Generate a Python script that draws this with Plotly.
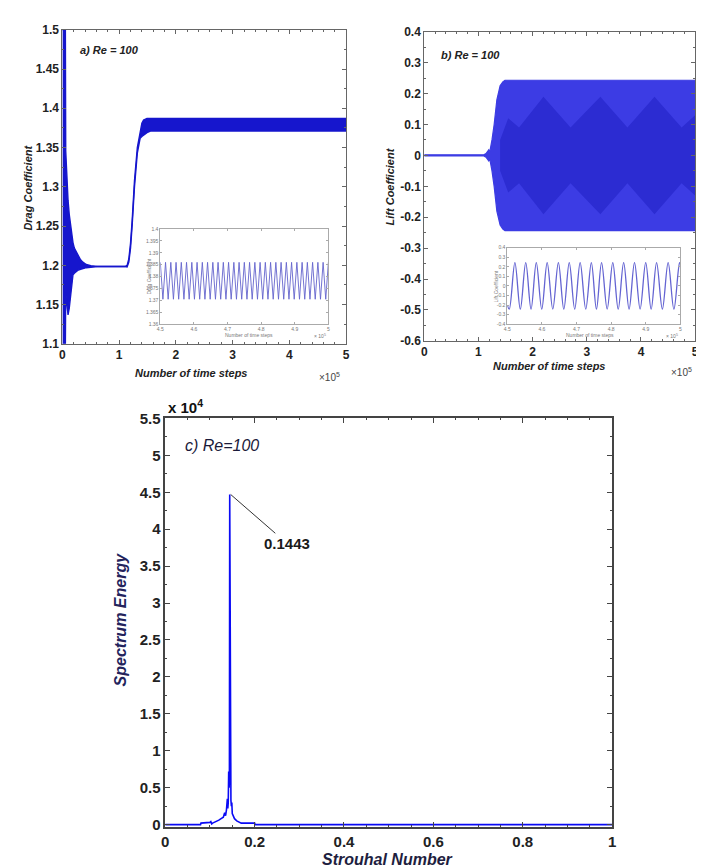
import plotly.graph_objects as go

# ---------------- data ----------------
# a) drag coefficient envelope (time in 1e5 steps)
drag_t = [0, 0.005, 0.045, 0.052, 0.058, 0.08, 0.099, 0.12, 0.145, 0.165, 0.186, 0.21, 0.244, 0.28, 0.32, 0.36, 0.42, 0.5, 0.62, 1.10, 1.14, 1.17, 1.20, 1.23, 1.27, 1.32, 1.37, 1.40, 1.43, 1.49, 1.55, 1.65, 5.0]
drag_upper = [1.5, 1.5, 1.5, 1.5, 1.346, 1.30, 1.283, 1.265, 1.25, 1.235, 1.229, 1.222, 1.217, 1.212, 1.207, 1.204, 1.201, 1.1995, 1.1985, 1.1985, 1.200, 1.208, 1.228, 1.258, 1.308, 1.350, 1.373, 1.381, 1.385, 1.387, 1.387, 1.387, 1.387]
drag_lower = [1.1, 1.1, 1.1, 1.1, 1.165, 1.15, 1.137, 1.145, 1.16, 1.178, 1.188, 1.190, 1.192, 1.194, 1.195, 1.196, 1.197, 1.1975, 1.1985, 1.1985, 1.198, 1.204, 1.222, 1.252, 1.300, 1.343, 1.362, 1.364, 1.366, 1.369, 1.371, 1.371, 1.371]

# b) lift coefficient envelope
lift_t = [0, 1.10, 1.14, 1.17, 1.19, 1.21, 1.22, 1.25, 1.29, 1.34, 1.40, 1.45, 1.49, 1.55, 5.0]
lift_upper = [0.002, 0.002, 0.006, 0.014, 0.018, 0.012, 0.02, 0.05, 0.10, 0.18, 0.225, 0.238, 0.243, 0.243, 0.243]
lift_lower = [-0.002, -0.002, -0.006, -0.014, -0.018, -0.012, -0.02, -0.05, -0.10, -0.18, -0.225, -0.238, -0.243, -0.243, -0.243]
# darker beat pattern inside the lift band (as seen in the picture)
beat_t = [1.40, 1.55, 1.75, 2.20, 2.70, 3.25, 3.75, 4.25, 4.75, 5.0]
beat_upper = [0.05, 0.12, 0.09, 0.19, 0.09, 0.19, 0.09, 0.19, 0.09, 0.13]
beat_lower = [-0.05, -0.12, -0.09, -0.19, -0.09, -0.19, -0.09, -0.19, -0.09, -0.13]

# c) spectrum (energy in units of 1e4)
strouhal = [0, 0.079, 0.080, 0.098, 0.100, 0.102, 0.104, 0.106, 0.110, 0.115, 0.120, 0.125, 0.130, 0.133, 0.135, 0.137, 0.138, 0.139, 0.140, 0.141, 0.142, 0.1430, 0.1436, 0.1443, 0.1450, 0.1458, 0.147, 0.148, 0.149, 0.150, 0.152, 0.155, 0.160, 0.165, 0.170, 0.180, 0.190, 0.200, 0.201, 1.0]
energy_e4 = [0, 0, 0.02, 0.02, 0.03, 0.04, 0.01, 0.02, 0.03, 0.05, 0.06, 0.08, 0.10, 0.16, 0.12, 0.20, 0.25, 0.35, 0.22, 0.30, 0.72, 0.50, 0.60, 4.47, 3.07, 0.80, 0.33, 0.25, 0.30, 0.15, 0.12, 0.08, 0.05, 0.03, 0.02, 0.02, 0.02, 0.02, 0, 0]

# inset a: drag coefficient, last part (turning points)
ins_drag_t = [4.5, 4.5078, 4.5156, 4.5234, 4.5313, 4.5391, 4.5469, 4.5547, 4.5625, 4.5703, 4.5781, 4.5859, 4.5938, 4.6016, 4.6094, 4.6172, 4.625, 4.6328, 4.6406, 4.6484, 4.6563, 4.6641, 4.6719, 4.6797, 4.6875, 4.6953, 4.7031, 4.7109, 4.7188, 4.7266, 4.7344, 4.7422, 4.75, 4.7578, 4.7656, 4.7734, 4.7813, 4.7891, 4.7969, 4.8047, 4.8125, 4.8203, 4.8281, 4.8359, 4.8438, 4.8516, 4.8594, 4.8672, 4.875, 4.8828, 4.8906, 4.8984, 4.9063, 4.9141, 4.9219, 4.9297, 4.9375, 4.9453, 4.9531, 4.9609, 4.9688, 4.9766, 4.9844, 4.9922, 5.0]
ins_drag_v = [1.386, 1.3705, 1.386, 1.3705, 1.386, 1.3705, 1.386, 1.3705, 1.386, 1.3705, 1.386, 1.3705, 1.386, 1.3705, 1.386, 1.3705, 1.386, 1.3705, 1.386, 1.3705, 1.386, 1.3705, 1.386, 1.3705, 1.386, 1.3705, 1.386, 1.3705, 1.386, 1.3705, 1.386, 1.3705, 1.386, 1.3705, 1.386, 1.3705, 1.386, 1.3705, 1.386, 1.3705, 1.386, 1.3705, 1.386, 1.3705, 1.386, 1.3705, 1.386, 1.3705, 1.386, 1.3705, 1.386, 1.3705, 1.386, 1.3705, 1.386, 1.3705, 1.386, 1.3705, 1.386, 1.3705, 1.386, 1.3705, 1.386, 1.3705, 1.386]

# inset b: lift coefficient, last part (turning points)
ins_lift_t = [4.5, 4.5057, 4.5219, 4.5376, 4.5533, 4.5686, 4.5838, 4.5995, 4.6152, 4.6314, 4.6476, 4.6633, 4.6790, 4.6948, 4.7105, 4.7267, 4.7429, 4.7576, 4.7724, 4.7886, 4.8048, 4.8205, 4.8362, 4.8519, 4.8676, 4.8838, 4.9000, 4.9157, 4.9314, 4.9481, 4.9648, 4.9814, 4.9981, 5.0]
ins_lift_v = [-0.20, -0.243, 0.243, -0.243, 0.243, -0.243, 0.243, -0.243, 0.243, -0.243, 0.243, -0.243, 0.243, -0.243, 0.243, -0.243, 0.243, -0.243, 0.243, -0.243, 0.243, -0.243, 0.243, -0.243, 0.243, -0.243, 0.243, -0.243, 0.243, -0.243, 0.243, -0.243, 0.243, 0.242]

# tick labels
ab_x_ticks = [0, 1, 2, 3, 4, 5]
ab_x_text = ["0", "1", "2", "3", "4", "5"]
drag_y_ticks = [1.1, 1.15, 1.2, 1.25, 1.3, 1.35, 1.4, 1.45, 1.5]
drag_y_text = ["1.1", "1.15", "1.2", "1.25", "1.3", "1.35", "1.4", "1.45", "1.5"]
lift_y_ticks = [-0.6, -0.5, -0.4, -0.3, -0.2, -0.1, 0, 0.1, 0.2, 0.3, 0.4]
lift_y_text = ["-0.6", "-0.5", "-0.4", "-0.3", "-0.2", "-0.1", "0", "0.1", "0.2", "0.3", "0.4"]
c_x_ticks = [0, 0.2, 0.4, 0.6, 0.8, 1]
c_x_text = ["0", "0.2", "0.4", "0.6", "0.8", "1"]
c_y_ticks = [0, 0.5, 1, 1.5, 2, 2.5, 3, 3.5, 4, 4.5, 5, 5.5]
c_y_text = ["0", "0.5", "1", "1.5", "2", "2.5", "3", "3.5", "4", "4.5", "5", "5.5"]
ins_x_ticks = [4.5, 4.6, 4.7, 4.8, 4.9, 5.0]
ins_x_text = ["4.5", "4.6", "4.7", "4.8", "4.9", "5"]
ins_drag_y_ticks = [1.36, 1.365, 1.37, 1.375, 1.38, 1.385, 1.39, 1.395, 1.4]
ins_drag_y_text = ["1.36", "1.365", "1.37", "1.375", "1.38", "1.385", "1.39", "1.395", "1.4"]
ins_lift_y_ticks = [-0.4, -0.3, -0.2, -0.1, 0, 0.1, 0.2, 0.3, 0.4]
ins_lift_y_text = ["-0.4", "-0.3", "-0.2", "-0.1", "0", "0.1", "0.2", "0.3", "0.4"]

# ---------------- layout helpers ----------------
W, H = 704, 868
def dom_x(a, b):
    return [a / W, b / W]
def dom_y(top, bot):
    return [1 - bot / H, 1 - top / H]
def px(x):
    return x / W
def py(y):
    return 1 - y / H

SANS = "Liberation Sans, Arial, sans-serif"
BLUE_A = "rgb(22,22,205)"
BLUE_B = "rgb(60,60,228)"
BLUE_B_DARK = "rgb(44,44,210)"

fig = go.Figure()

# a) drag
fig.add_trace(go.Scatter(x=drag_t, y=drag_lower, mode="lines", line=dict(color=BLUE_A, width=1.4),
                         xaxis="x", yaxis="y", hoverinfo="skip"))
fig.add_trace(go.Scatter(x=drag_t, y=drag_upper, mode="lines", line=dict(color=BLUE_A, width=1.4),
                         fill="tonexty", fillcolor=BLUE_A, xaxis="x", yaxis="y", hoverinfo="skip"))
# b) lift
fig.add_trace(go.Scatter(x=lift_t, y=lift_lower, mode="lines", line=dict(color=BLUE_B, width=1.2),
                         xaxis="x2", yaxis="y2", hoverinfo="skip"))
fig.add_trace(go.Scatter(x=lift_t, y=lift_upper, mode="lines", line=dict(color=BLUE_B, width=1.2),
                         fill="tonexty", fillcolor=BLUE_B, xaxis="x2", yaxis="y2", hoverinfo="skip"))
fig.add_trace(go.Scatter(x=beat_t, y=beat_lower, mode="lines", line=dict(color=BLUE_B_DARK, width=0),
                         xaxis="x2", yaxis="y2", hoverinfo="skip"))
fig.add_trace(go.Scatter(x=beat_t, y=beat_upper, mode="lines", line=dict(color=BLUE_B_DARK, width=0),
                         fill="tonexty", fillcolor=BLUE_B_DARK, xaxis="x2", yaxis="y2", hoverinfo="skip"))
# c) spectrum
fig.add_trace(go.Scatter(x=strouhal, y=energy_e4, mode="lines", line=dict(color="rgb(10,10,245)", width=1.6),
                         xaxis="x3", yaxis="y3", hoverinfo="skip"))
# insets
fig.add_trace(go.Scatter(x=ins_drag_t, y=ins_drag_v, mode="lines", line=dict(color="rgb(100,100,205)", width=0.9),
                         xaxis="x4", yaxis="y4", hoverinfo="skip"))
fig.add_trace(go.Scatter(x=ins_lift_t, y=ins_lift_v, mode="lines", line=dict(color="rgb(100,100,210)", width=1.3, shape="spline"),
                         xaxis="x5", yaxis="y5", hoverinfo="skip"))

def main_axis(domain, rng, tv, tt, anchor, minor_dtick, fsize=12, lc="#666", lw=1, tlen=4):
    return dict(domain=domain, range=rng, anchor=anchor, tickmode="array", tickvals=tv, ticktext=tt,
                ticks="inside", ticklen=tlen, tickcolor=lc, showline=True, linecolor=lc, linewidth=lw,
                mirror="ticks", showgrid=False, zeroline=False,
                minor=dict(ticks="inside", ticklen=2, dtick=minor_dtick, tickcolor=lc),
                tickfont=dict(family=SANS, size=fsize, color="#222", weight="bold"))

def inset_axis(domain, rng, tv, tt, anchor):
    return dict(domain=domain, range=rng, anchor=anchor, tickmode="array", tickvals=tv, ticktext=tt,
                ticks="inside", ticklen=2, tickcolor="#aaa", showline=True, linecolor="#aaa", linewidth=0.8,
                mirror="ticks", showgrid=False, zeroline=False,
                tickfont=dict(family=SANS, size=5, color="#777"))

layout = dict(
    width=W, height=H, margin=dict(l=0, r=0, t=0, b=0),
    paper_bgcolor="white", plot_bgcolor="rgba(0,0,0,0)", showlegend=False,
    xaxis=main_axis(dom_x(51, 338), [0, 5], ab_x_ticks, ab_x_text, "y", 0.2),
    yaxis=main_axis(dom_y(13, 333), [1.1, 1.5], drag_y_ticks, drag_y_text, "x", 0.025),
    xaxis2=main_axis(dom_x(417, 691), [0, 5], ab_x_ticks, ab_x_text, "y2", 0.2),
    yaxis2=main_axis(dom_y(15, 330), [-0.6, 0.4], lift_y_ticks, lift_y_text, "x2", 0.05),
    xaxis3=main_axis(dom_x(155, 607), [0, 1], c_x_ticks, c_x_text, "y3", 0.05, fsize=15, lc="#444", lw=1.5, tlen=5),
    yaxis3=main_axis(dom_y(409, 825), [-0.03, 5.5], c_y_ticks, c_y_text, "x3", 0.25, fsize=15, lc="#444", lw=1.5, tlen=5),
    xaxis4=inset_axis(dom_x(150, 320), [4.5, 5.0], ins_x_ticks, ins_x_text, "y4"),
    yaxis4=inset_axis(dom_y(216, 313), [1.36, 1.4], ins_drag_y_ticks, ins_drag_y_text, "x4"),
    xaxis5=inset_axis(dom_x(501, 676), [4.5, 5.0], ins_x_ticks, ins_x_text, "y5"),
    yaxis5=inset_axis(dom_y(235, 313), [-0.4, 0.4], ins_lift_y_ticks, ins_lift_y_text, "x5"),
)
fig.update_layout(**layout)

# white backgrounds for insets
fig.add_shape(type="rect", xref="paper", yref="paper", x0=px(150), x1=px(320), y0=py(313), y1=py(216),
              fillcolor="white", line=dict(width=0), layer="below")
fig.add_shape(type="rect", xref="paper", yref="paper", x0=px(501), x1=px(676), y0=py(313), y1=py(235),
              fillcolor="white", line=dict(width=0), layer="below")

def ann(x, y, text, size, color="#222", bold=True, italic=True, angle=0, xanchor="center", family=SANS):
    fig.add_annotation(xref="paper", yref="paper", x=px(x), y=py(y), text=text, showarrow=False,
                       xanchor=xanchor, yanchor="middle", textangle=angle,
                       font=dict(family=family, size=size, color=color,
                                 weight="bold" if bold else "normal",
                                 style="italic" if italic else "normal"))

# panel a texts
ann(67, 34, "a) Re = 100", 11, xanchor="left")
ann(16, 174, "Drag Coefficient", 11, angle=-90)
ann(181, 363, "Number of time steps", 11)
ann(321, 367, "×10<sup>5</sup>", 10, color="#444", bold=False, italic=False)
# panel b texts
ann(432, 39, "b) Re = 100", 11, xanchor="left")
ann(382, 173, "Lift Coefficient", 11, angle=-90)
ann(543, 356, "Number of time steps", 11)
ann(677, 362, "×10<sup>5</sup>", 10, color="#444", bold=False, italic=False)
# inset texts
ann(139, 264, "Drag Coefficient", 5, color="#777", bold=False, italic=False, angle=-90)
ann(240, 324, "Number of time steps", 5, color="#777", bold=False, italic=False)
ann(312, 325, "× 10<sup>5</sup>", 5, color="#777", bold=False, italic=False)
ann(490, 274, "Lift Coefficient", 5, color="#777", bold=False, italic=False, angle=-90)
ann(585, 324, "Number of time steps", 5, color="#777", bold=False, italic=False)
ann(668, 325, "× 10<sup>5</sup>", 5, color="#777", bold=False, italic=False)
# panel c texts
ann(156, 397, "x 10<sup>4</sup>", 15, color="#111", italic=False, xanchor="left")
ann(173, 437, "c) Re=100", 16, color="#1a1a3a", bold=False, xanchor="left")
ann(110, 614, "Spectrum Energy", 16, color="#23235c", angle=-90)
ann(380, 858, "Strouhal Number", 16, color="#1e1e40")

fig.add_annotation(x=0.1465, y=4.47, xref="x3", yref="y3", text="0.1443", showarrow=True,
                   arrowhead=0, arrowwidth=1, arrowcolor="#333", ax=0.272, ay=3.81, axref="x3", ayref="y3",
                   font=dict(family=SANS, size=15, color="#1a1a1a", weight="bold"))

fig.write_html("out.html")
